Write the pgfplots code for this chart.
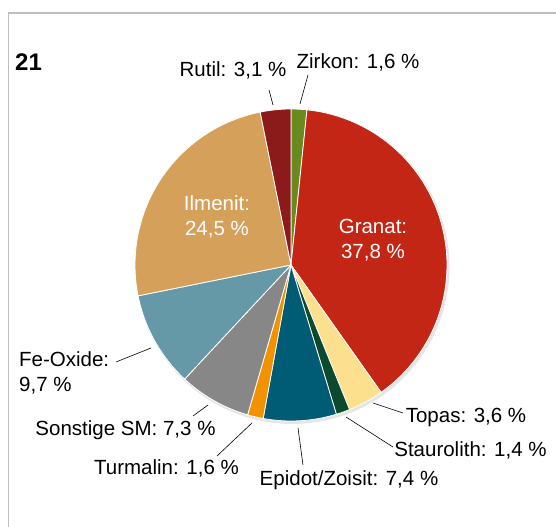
\documentclass[border=0pt]{standalone}
\usepackage{pgfplots}
\pgfplotsset{compat=1.18}
\usepackage{fontspec}
\setmainfont{Liberation Sans}
\definecolor{cZirkon}{HTML}{6A8A1F}
\definecolor{cGranat}{HTML}{C42615}
\definecolor{cTopas}{HTML}{FCE08E}
\definecolor{cStaur}{HTML}{0B4A2E}
\definecolor{cEpidot}{HTML}{005B74}
\definecolor{cTurm}{HTML}{F39200}
\definecolor{cSonst}{HTML}{878787}
\definecolor{cFe}{HTML}{6699A8}
\definecolor{cIlm}{HTML}{D4A05A}
\definecolor{cRutil}{HTML}{8B1A1A}
\definecolor{frame}{RGB}{190,190,190}
% slice: start (cumulative %), end (cumulative %), colour; total = 98.0
\newcommand{\slice}[3]{%
  \addplot[fill=#3, draw=white, line width=0.8bp, domain=#1:#2, samples=60]
    ({291+156*cos(90-x*360/98)}, {262+156*sin(90-x*360/98)}) -- (axis cs:291,262) -- cycle;}
\begin{document}
\begin{tikzpicture}
\useasboundingbox (0,0) rectangle (556bp,527bp);
\begin{axis}[
  scale only axis, width=556bp, height=527bp,
  xmin=0, xmax=556, ymin=0, ymax=527,
  hide axis, clip=false,
]
% frame
\draw[frame, line width=1.3bp] (axis cs:8.5,0) -- (axis cs:8.5,514) -- (axis cs:556,514);
% shadow
\addplot[draw=none, fill=black, opacity=0.10, domain=0:360, samples=120]
  ({292.5+157*cos(x)}, {260+157*sin(x)}) -- cycle;
% values: Zirkon 1.6, Granat 37.8, Topas 3.6, Staurolith 1.4, Epidot/Zoisit 7.4,
% Turmalin 1.6, Sonstige SM 7.3, Fe-Oxide 9.7, Ilmenit 24.5, Rutil 3.1
\slice{0}{1.6}{cZirkon}
\slice{1.6}{39.4}{cGranat}
\slice{39.4}{43.0}{cTopas}
\slice{43.0}{44.4}{cStaur}
\slice{44.4}{51.8}{cEpidot}
\slice{51.8}{53.4}{cTurm}
\slice{53.4}{60.7}{cSonst}
\slice{60.7}{70.4}{cFe}
\slice{70.4}{94.9}{cIlm}
\slice{94.9}{98.0}{cRutil}
% leader lines
\begin{scope}[line width=0.6bp, black]
\draw (axis cs:269,437) -- (axis cs:273,422);
\draw (axis cs:308,452) -- (axis cs:300,423);
\draw (axis cs:116,165) -- (axis cs:151,179);
\draw (axis cs:193,111) -- (axis cs:208,122);
\draw (axis cs:217,71) -- (axis cs:252,104);
\draw (axis cs:298,99) -- (axis cs:303,62);
\draw (axis cs:373,124) -- (axis cs:403,114);
\draw (axis cs:346,110) -- (axis cs:393,80);
\end{scope}
% labels
\begin{scope}[font=\fontsize{20.5bp}{25bp}\selectfont, inner sep=0pt]
\node[anchor=west, font=\fontsize{24bp}{28bp}\selectfont\bfseries] at (axis cs:15,465) {21};
\node at (axis cs:233,457) {Rutil: 3,1 \%};
\node at (axis cs:358,465) {Zirkon: 1,6 \%};
\node[white, align=center] at (axis cs:217,310) {Ilmenit:\\24,5 \%};
\node[white, align=center] at (axis cs:373,287) {Granat:\\37,8 \%};
\node[anchor=west, align=left] at (axis cs:19,154.5) {Fe-Oxide:\\9,7 \%};
\node at (axis cs:125.5,97) {Sonstige SM: 7,3 \%};
\node at (axis cs:166.5,59) {Turmalin: 1,6 \%};
\node at (axis cs:349,47) {Epidot/Zoisit: 7,4 \%};
\node at (axis cs:466,110) {Topas: 3,6 \%};
\node at (axis cs:470.5,77) {Staurolith: 1,4 \%};
\end{scope}
\end{axis}
\end{tikzpicture}
\end{document}
